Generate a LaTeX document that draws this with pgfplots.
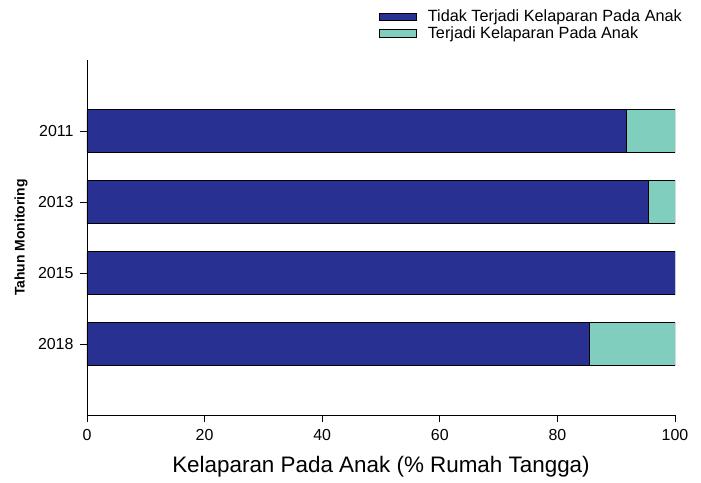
\documentclass[border=0pt]{standalone}
\usepackage{pgfplots}
\pgfplotsset{compat=1.18}
\usepackage{fontspec}
\setmainfont{Liberation Sans}
\definecolor{tidak}{RGB}{40,48,146}
\definecolor{terjadi}{RGB}{128,206,190}

\begin{document}
\begin{tikzpicture}
\useasboundingbox (-87bp,-68bp) rectangle (614bp,415bp);
\begin{axis}[
    scale only axis,
    width=588bp, height=355bp,
    xbar stacked, bar width=43bp,
    xmin=0, xmax=100, ymin=0, ymax=5,
    y dir=reverse,
    axis x line*=bottom, axis y line*=left,
    axis line style={-, line width=0.8pt},
    xtick={0,20,...,100},
    ytick={1,2,3,4}, yticklabels={2011,2013,2015,2018},
    tick align=outside, major tick length=7bp,
    tick style={black, line width=0.8pt},
    ticklabel style={font=\fontsize{16}{19}\selectfont},
    xticklabel style={yshift=-4bp},
    yticklabel style={xshift=-3bp},
    /pgf/number format/assume math mode=true,
    xlabel={Kelaparan Pada Anak (\% Rumah Tangga)},
    xlabel style={font=\fontsize{22.5}{26}\selectfont, at={(axis description cs:0.5,-0.1465)}, anchor=center},
    ylabel={Tahun Monitoring},
    ylabel style={font=\fontsize{14}{16}\selectfont\bfseries, at={(axis description cs:-0.112,0.5)}, anchor=center},
    legend style={draw=none, fill=none, font=\fontsize{16.3}{17}\selectfont,
        at={(axis description cs:1.0204,1.152)}, anchor=north east,
        cells={anchor=west}, row sep=-1bp,
        /tikz/every odd column/.append style={column sep=9bp}},
    legend image code/.code={\draw[#1, draw=black, line width=0.7pt] (0bp,-3.75bp) rectangle (37bp,3.75bp);},
]
\addplot[fill=tidak, draw=black, line width=0.7pt] coordinates {(91.7,1) (95.5,2) (100,3) (85.4,4)};
\addplot[fill=terjadi, draw=black, line width=0.7pt] coordinates {(8.3,1) (4.5,2) (0,3) (14.6,4)};
\legend{Tidak Terjadi Kelaparan Pada Anak, Terjadi Kelaparan Pada Anak}
\end{axis}
\end{tikzpicture}
\end{document}
